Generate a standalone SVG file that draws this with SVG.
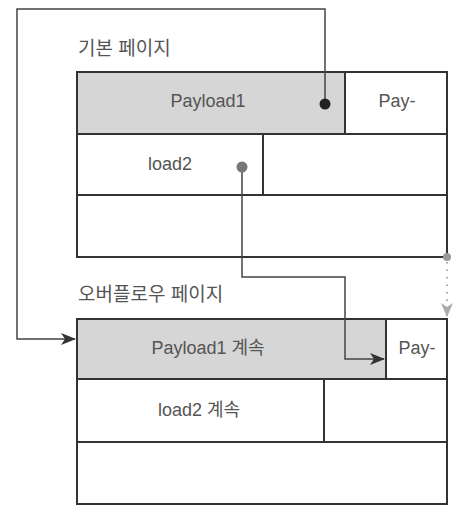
<svg xmlns="http://www.w3.org/2000/svg" width="462" height="514" viewBox="0 0 462 514">
<style>
.cell{fill:#fff;stroke:#333;stroke-width:2}
.gray{fill:#d6d6d6}
.t{font-family:"Liberation Sans","Noto Sans CJK KR",sans-serif;font-size:18px;fill:#555}
.lbl{font-family:"Liberation Sans","Noto Sans CJK KR",sans-serif;font-size:19px;fill:#555}
.conn{fill:none;stroke:#444;stroke-width:1.5}
</style>
<defs>
<marker id="arr" viewBox="0 0 15 12" refX="14" refY="6" markerWidth="15" markerHeight="12" markerUnits="userSpaceOnUse" orient="auto">
<path d="M0,0 L15,6 L0,12 L4,6 Z" fill="#333"/>
</marker>
<marker id="arrg" viewBox="0 0 12 14" refX="6" refY="13" markerWidth="12" markerHeight="14" markerUnits="userSpaceOnUse" orient="0">
<path d="M0,0 L6,14 L12,0 L6,4 Z" fill="#aaa"/>
</marker>
</defs>
<text class="lbl" x="78" y="55">기본 페이지</text>
<text class="lbl" x="78" y="301">오버플로우 페이지</text>
<g id="base-page">
<rect class="cell" x="77" y="72" width="370" height="185"/>
<rect class="cell gray" x="77" y="72" width="268" height="62"/>
<rect class="cell" x="345" y="72" width="102" height="62"/>
<rect class="cell" x="77" y="134" width="186" height="61"/>
<rect class="cell" x="263" y="134" width="184" height="61"/>
<rect class="cell" x="77" y="195" width="370" height="62"/>
<text class="t" x="208" y="107" text-anchor="middle">Payload1</text>
<text class="t" x="397" y="107" text-anchor="middle">Pay-</text>
<text class="t" x="170" y="170" text-anchor="middle">load2</text>
</g>
<g id="overflow-page">
<rect class="cell" x="77" y="319" width="370" height="185"/>
<rect class="cell gray" x="77" y="319" width="309" height="60"/>
<rect class="cell" x="386" y="319" width="61" height="60"/>
<rect class="cell" x="77" y="379" width="247" height="63"/>
<rect class="cell" x="324" y="379" width="123" height="63"/>
<rect class="cell" x="77" y="442" width="370" height="62"/>
<text class="t" x="208" y="354" text-anchor="middle">Payload1 계속</text>
<text class="t" x="417" y="354" text-anchor="middle">Pay-</text>
<text class="t" x="199" y="416" text-anchor="middle">load2 계속</text>
</g>
<g id="connectors">
<path class="conn" d="M325,104 V9 H17 V339 H75" marker-end="url(#arr)"/>
<circle cx="325" cy="104" r="5.5" fill="#222"/>
<path class="conn" d="M242,167 V277 H345 V359 H384" marker-end="url(#arr)"/>
<circle cx="242" cy="167" r="5.5" fill="#777"/>
<circle cx="447" cy="257" r="4" fill="#999"/>
<path d="M447,262 V316" fill="none" stroke="#aaa" stroke-width="2" stroke-dasharray="1.5,6" marker-end="url(#arrg)"/>
</g>
</svg>
